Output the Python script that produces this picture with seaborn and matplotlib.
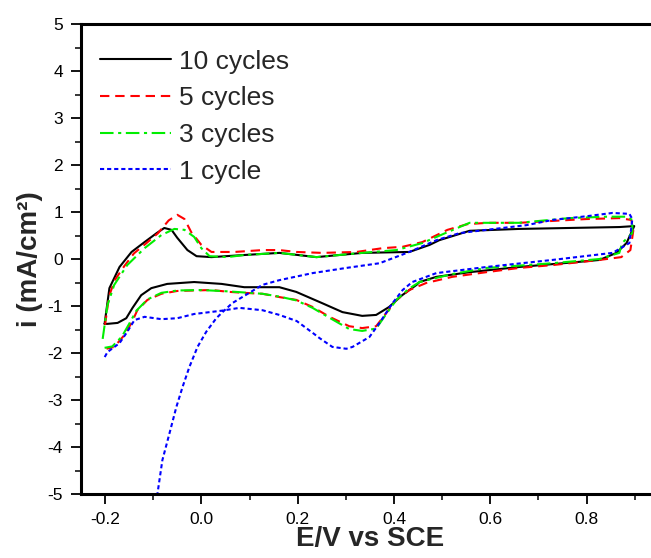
import matplotlib
matplotlib.use("Agg")
import matplotlib.pyplot as plt
from matplotlib.ticker import MultipleLocator
import seaborn as sns
import pandas as pd

# Cyclic voltammograms: each sweep runs anodic (forward) then cathodic (back).
e_10 = [-0.201, -0.191, -0.170, -0.145, -0.118, -0.093, -0.077, -0.062, -0.050, -0.029,
        -0.010, 0.021, 0.089, 0.162, 0.239, 0.334, 0.432, 0.474, 0.494, 0.557, 0.660,
        0.764, 0.868, 0.899,
        0.883, 0.862, 0.827, 0.785, 0.660, 0.557, 0.488, 0.453, 0.447, 0.417, 0.390,
        0.363, 0.334, 0.293, 0.251, 0.197, 0.162, 0.127, 0.089, 0.042, -0.015, -0.071,
        -0.104, -0.125, -0.143, -0.156, -0.174, -0.195, -0.201]
i_10 = [-1.38, -0.62, -0.17, 0.15, 0.36, 0.55, 0.66, 0.62, 0.45, 0.19,
        0.06, 0.04, 0.085, 0.13, 0.04, 0.13, 0.15, 0.30, 0.40, 0.60, 0.64,
        0.66, 0.68, 0.70,
        0.34, 0.13, -0.02, -0.06, -0.17, -0.28, -0.38, -0.49, -0.55, -0.77, -1.02,
        -1.19, -1.21, -1.13, -0.94, -0.70, -0.60, -0.60, -0.60, -0.53, -0.49, -0.53,
        -0.62, -0.77, -1.04, -1.26, -1.36, -1.38, -1.38]

e_5 = [-0.200, -0.192, -0.180, -0.160, -0.140, -0.115, -0.090, -0.068, -0.050, -0.035,
       -0.021, 0.000, 0.021, 0.069, 0.127, 0.162, 0.197, 0.251, 0.322, 0.376, 0.418,
       0.459, 0.511, 0.552, 0.594, 0.660, 0.729, 0.800, 0.868, 0.893, 0.897,
       0.891, 0.872, 0.827, 0.729, 0.660, 0.592, 0.521, 0.467, 0.432, 0.405, 0.384,
       0.363, 0.334, 0.307, 0.266, 0.231, 0.197, 0.162, 0.127, 0.089, 0.058, 0.021,
       -0.050, -0.083, -0.112, -0.133, -0.145, -0.160, -0.181, -0.197]
i_5 = [-1.40, -0.80, -0.45, -0.15, 0.12, 0.33, 0.55, 0.82, 0.94, 0.85,
       0.57, 0.30, 0.15, 0.15, 0.19, 0.19, 0.15, 0.13, 0.15, 0.23, 0.26,
       0.36, 0.62, 0.74, 0.77, 0.77, 0.81, 0.85, 0.87, 0.83, 0.60,
       0.19, 0.04, -0.02, -0.13, -0.19, -0.28, -0.38, -0.51, -0.66, -0.87, -1.15,
       -1.43, -1.47, -1.43, -1.23, -1.02, -0.87, -0.81, -0.74, -0.72, -0.70, -0.66,
       -0.68, -0.74, -0.87, -1.09, -1.36, -1.62, -1.87, -1.91]

e_3 = [-0.205, -0.195, -0.181, -0.154, -0.118, -0.083, -0.056, -0.035, -0.015, 0.000,
       0.017, 0.054, 0.089, 0.162, 0.239, 0.334, 0.405, 0.459, 0.511, 0.557, 0.660,
       0.764, 0.841, 0.883, 0.895,
       0.895, 0.874, 0.868, 0.827, 0.729, 0.592, 0.521, 0.453, 0.430, 0.405, 0.384,
       0.363, 0.334, 0.307, 0.266, 0.231, 0.197, 0.162, 0.127, 0.058, 0.000, -0.050,
       -0.083, -0.112, -0.135, -0.150, -0.165, -0.185, -0.201]
i_3 = [-1.70, -0.98, -0.55, -0.13, 0.23, 0.51, 0.64, 0.62, 0.47, 0.23,
       0.06, 0.04, 0.085, 0.13, 0.04, 0.13, 0.19, 0.34, 0.57, 0.77, 0.77,
       0.87, 0.90, 0.90, 0.83,
       0.55, 0.34, 0.13, 0.00, -0.09, -0.19, -0.32, -0.49, -0.64, -0.87, -1.17,
       -1.48, -1.53, -1.49, -1.25, -1.04, -0.88, -0.80, -0.74, -0.69, -0.66, -0.67,
       -0.72, -0.86, -1.10, -1.38, -1.65, -1.86, -1.89]

e_1 = [-0.092, -0.081, -0.066, -0.052, -0.039, -0.025, -0.008, 0.010, 0.031, 0.044,
       0.064, 0.085, 0.127, 0.162, 0.231, 0.301, 0.370, 0.432, 0.488, 0.536, 0.592,
       0.675, 0.729, 0.800, 0.854, 0.889,
       0.895, 0.889, 0.854, 0.729, 0.592, 0.488, 0.438, 0.418, 0.397, 0.370, 0.349,
       0.314, 0.301, 0.272, 0.245, 0.231, 0.198, 0.162, 0.127, 0.079, 0.042, -0.015,
       -0.050, -0.083, -0.118, -0.139, -0.154, -0.170, -0.195, -0.201]
i_1 = [-5.05, -4.28, -3.70, -3.15, -2.72, -2.30, -1.87, -1.55, -1.26, -1.13,
       -0.94, -0.81, -0.55, -0.45, -0.30, -0.19, -0.09, 0.15, 0.40, 0.55, 0.62,
       0.72, 0.83, 0.91, 0.98, 0.96,
       0.85, 0.34, 0.13, -0.02, -0.17, -0.30, -0.49, -0.66, -0.94, -1.36, -1.66,
       -1.87, -1.91, -1.87, -1.68, -1.57, -1.32, -1.19, -1.09, -1.04, -1.10, -1.17,
       -1.26, -1.28, -1.23, -1.30, -1.55, -1.79, -1.98, -2.09]

labels = ["10 cycles", "5 cycles", "3 cycles", "1 cycle"]
x_ticks = [-0.2, 0.0, 0.2, 0.4, 0.6, 0.8]
y_ticks = [-5, -4, -3, -2, -1, 0, 1, 2, 3, 4, 5]

series = [(e_10, i_10), (e_5, i_5), (e_3, i_3), (e_1, i_1)]
frames = []
for lab, (e, i) in zip(labels, series):
    frames.append(pd.DataFrame({"E": e, "i": i, "run": lab, "order": range(len(e))}))
df = pd.concat(frames, ignore_index=True)

sns.set_style("ticks")
plt.rcParams["font.family"] = ["Liberation Sans", "DejaVu Sans"]

styles = {
    "10 cycles": dict(color="#000000", dashes=None),
    "5 cycles": dict(color="#FF0000", dashes=(4.5, 2.8)),
    "3 cycles": dict(color="#00EE00", dashes=(6.5, 2.2, 1.5, 2.2)),
    "1 cycle": dict(color="#0000FF", dashes=(2.0, 1.4)),
}

fig = plt.figure(figsize=(6.51, 5.58), dpi=100)
ax = fig.add_axes([81 / 651, 64 / 558, 577.8 / 651, 470 / 558])

for lab in labels:
    sub = df[df["run"] == lab]
    st = styles[lab]
    sns.lineplot(data=sub, x="E", y="i", sort=False, estimator=None, ax=ax,
                 color=st["color"], linewidth=1.5, label=lab)
    line = ax.get_lines()[-1]
    if st["dashes"] is not None:
        line.set_dashes(st["dashes"])

ax.set_xlim(-0.25, 0.95)
ax.set_ylim(-5, 5)
ax.set_xticks(x_ticks)
ax.set_xticklabels([f"{v:.1f}" for v in x_ticks])
ax.set_yticks(y_ticks)
ax.set_yticklabels([str(v) for v in y_ticks])
ax.xaxis.set_minor_locator(MultipleLocator(0.1))
ax.yaxis.set_minor_locator(MultipleLocator(0.5))
ax.tick_params(axis="both", which="major", direction="out", length=7, width=1.3,
               labelsize=12.5, colors="black", pad=6)
ax.tick_params(axis="both", which="minor", direction="out", length=4, width=1.3)
ax.tick_params(top=False, right=False, which="both")

for side in ["left", "bottom", "top", "right"]:
    ax.spines[side].set_linewidth(2.2)
    ax.spines[side].set_color("black")

ax.set_xlabel("E/V vs SCE", fontsize=20, fontweight="bold")
ax.set_ylabel("i (mA/cm²)", fontsize=20, fontweight="bold")
ax.xaxis.set_label_coords(0.5, -0.068)
ax.yaxis.set_label_coords(-0.066, 0.5)

leg = ax.legend(loc="upper left", bbox_to_anchor=(0.015, 0.968), frameon=False,
                fontsize=19, handlelength=2.7, handletextpad=0.3, labelspacing=0.48,
                borderaxespad=0.0)

fig.savefig("out.png", dpi=100)
